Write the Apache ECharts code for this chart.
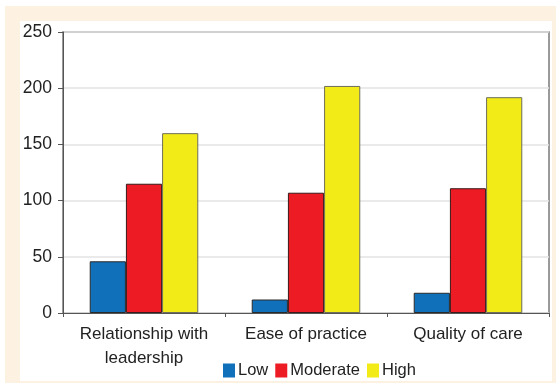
<!DOCTYPE html>
<html>
<head>
<meta charset="utf-8">
<script src="https://cdn.jsdelivr.net/npm/echarts@6/dist/echarts.min.js"></script>
<style>
  html, body { margin: 0; padding: 0; background: #ffffff; }
  #outer { position: absolute; left: 5px; top: 6px; width: 551px; height: 377px; background: #fdf2e2; }
  #inner { position: absolute; left: 20px; top: 21px; width: 532px; height: 360px; background: #ffffff; }
  #chart { position: absolute; left: 0; top: 0; width: 556px; height: 383px; }
</style>
</head>
<body>
<div id="outer"></div>
<div id="inner"></div>
<div id="chart"></div>
<script>
const categories = ['Relationship with\nleadership', 'Ease of practice', 'Quality of care'];
const seriesNames = ['Low', 'Moderate', 'High'];
const lowValues = [46, 12, 18];
const moderateValues = [115, 107, 111];
const highValues = [160, 202, 192];
const yTicks = { min: 0, max: 250, interval: 50 };

const FONT = "'Liberation Sans Narrow', 'Arial Narrow', 'Liberation Sans', sans-serif";
const colors = ['#1170ba', '#ed1c24', '#f2eb17'];
const borders = ['#2a2a2a', '#3a1a1a', '#6e6e5a'];
const data = [lowValues, moderateValues, highValues];

const chart = echarts.init(document.getElementById('chart'), null, { renderer: 'canvas' });
chart.setOption({
  backgroundColor: 'transparent',
  animation: false,
  grid: {
    left: 63, top: 32, right: 7, bottom: 70,
    show: true, borderColor: '#7a7a7a', borderWidth: 1.5, backgroundColor: 'transparent'
  },
  legend: {
    data: seriesNames,
    left: 218, top: 357,
    itemWidth: 12, itemHeight: 14, itemGap: 7,
    icon: 'rect',
    itemStyle: { borderWidth: 0 },
    textStyle: { fontFamily: FONT, fontSize: 16.5, color: '#222', padding: [0, 0, 0, -2] }
  },
  xAxis: {
    type: 'category',
    data: categories,
    axisLine: { lineStyle: { color: '#555', width: 1 } },
    axisTick: { show: true, length: 4, lineStyle: { color: '#555' } },
    axisLabel: { fontFamily: FONT, fontSize: 17, color: '#222', margin: 9, lineHeight: 24, interval: 0 },
    splitLine: { show: false }
  },
  yAxis: {
    type: 'value',
    min: yTicks.min, max: yTicks.max, interval: yTicks.interval,
    axisLine: { show: true, lineStyle: { color: '#555', width: 1 } },
    axisTick: { show: true, length: 5, lineStyle: { color: '#555' } },
    axisLabel: { fontFamily: FONT, fontSize: 17.5, color: '#222', margin: 11 },
    splitLine: { show: true, lineStyle: { color: '#e3e3e3', width: 1.5 } }
  },
  series: seriesNames.map((name, i) => ({
    name: name,
    type: 'bar',
    data: data[i],
    barGap: '0%',
    barCategoryGap: '33%',
    itemStyle: { color: colors[i], borderColor: borders[i], borderWidth: 1 }
  }))
});
</script>
</body>
</html>
